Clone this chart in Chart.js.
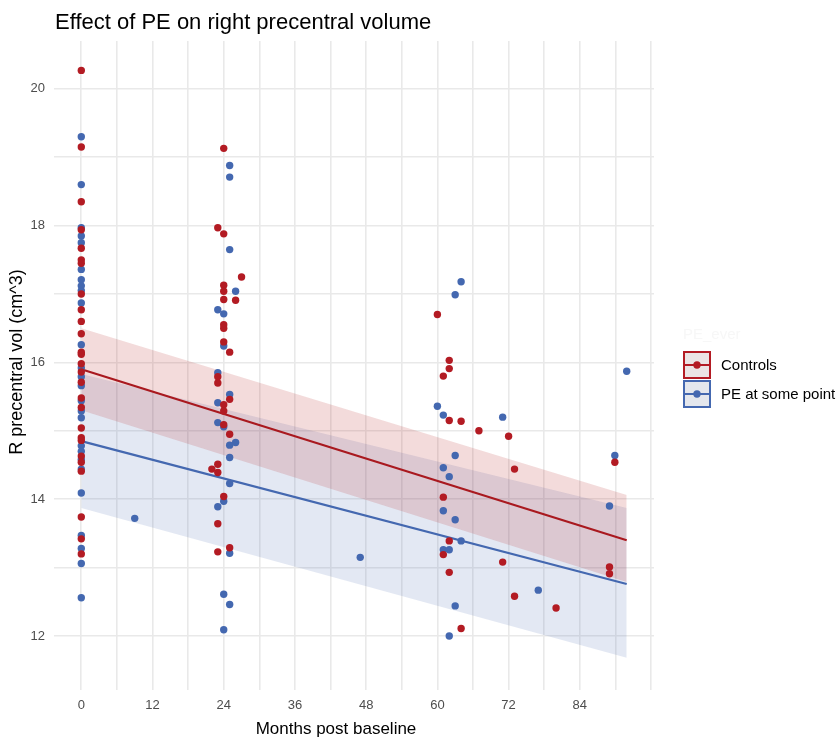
<!DOCTYPE html>
<html>
<head>
<meta charset="utf-8">
<title>Effect of PE on right precentral volume</title>
<script src="https://cdn.jsdelivr.net/npm/chart.js@4.4.1/dist/chart.umd.min.js"></script>
<style>
  body { margin: 0; background: #fff; }
  canvas { display: block; }
</style>
</head>
<body>
<canvas id="chart" width="836" height="738"></canvas>
<script>
const controlsMonths = [
    0, 0, 0, 0, 0, 0, 0, 0, 0, 0, 0, 0, 0, 0, 0, 0, 0, 0, 0, 0, 0, 0, 0, 0, 0, 0, 0,
    24, 23, 24, 27, 24, 24, 24, 26, 24, 24, 24, 25, 23, 23, 25, 24, 24, 24, 25, 23, 22, 23, 24, 23, 25, 23,
    60, 62, 62, 61, 62, 64, 67, 72, 73, 61, 62, 61, 62, 71, 73, 80, 64, 89.9, 89, 89
];
const controlsVol = [
    20.27, 19.15, 18.35, 17.94, 17.67, 17.50, 17.45, 17.00, 16.77, 16.60, 16.42, 16.15, 16.12, 15.98,
    15.86, 15.71, 15.48, 15.34, 15.04, 14.90, 14.86, 14.63, 14.54, 14.41, 13.74, 13.42, 13.20,
    19.13, 17.97, 17.88, 17.25, 17.13, 17.04, 16.92, 16.91, 16.55, 16.50, 16.30, 16.15, 15.79, 15.70,
    15.46, 15.38, 15.29, 15.09, 14.95, 14.51, 14.44, 14.39, 14.04, 13.64, 13.29, 13.23,
    16.70, 16.03, 15.91, 15.80, 15.15, 15.14, 15.00, 14.92, 14.44, 14.03, 13.39, 13.19, 12.93, 13.08,
    12.58, 12.41, 12.11, 14.54, 13.01, 12.91
];
const peMonths = [
    0, 0, 0, 0, 0, 0, 0, 0, 0, 0, 0, 0, 0, 0, 0, 0, 0, 0, 0, 0, 0, 0, 0, 0, 0, 0,
    9, 47,
    25, 25, 25, 26, 23, 24, 24, 23, 25, 23, 23, 24, 25, 26, 25, 25, 24, 23, 25, 24, 25, 24,
    64, 63, 60, 61, 71, 63, 61, 62, 61, 63, 64, 61, 62, 77, 63, 62, 89.9, 89, 91.9
];
const peVol = [
    19.30, 18.60, 17.97, 17.85, 17.75, 17.36, 17.21, 17.12, 17.05, 16.87, 16.26, 15.92, 15.79, 15.66,
    15.44, 15.29, 15.19, 14.78, 14.70, 14.58, 14.44, 14.09, 13.47, 13.28, 13.06, 12.56,
    13.72, 13.15,
    18.88, 18.71, 17.65, 17.04, 16.77, 16.71, 16.24, 15.85, 15.53, 15.41, 15.12, 15.06, 14.79, 14.83,
    14.61, 14.23, 13.97, 13.89, 13.21, 12.61, 12.46, 12.09,
    17.18, 16.99, 15.36, 15.23, 15.20, 14.64, 14.46, 14.33, 13.83, 13.70, 13.39, 13.26, 13.26, 12.67,
    12.44, 12.00, 14.64, 13.90, 15.87
];

// Fitted lines and confidence ribbons, ends at month 0 and last visit
const fitMonths = [0, 91.9];
const controlsFit = [15.90, 13.40];
const controlsUpper = [16.50, 14.06];
const controlsLower = [15.30, 12.79];
const peFit = [14.85, 12.76];
const peUpper = [15.83, 13.87];
const peLower = [13.87, 11.68];

// Axis breaks (major + minor gridlines)
const xTicks = [0, 6, 12, 18, 24, 30, 36, 42, 48, 54, 60, 66, 72, 78, 84, 90, 96];
const yTicks = [12, 13, 14, 15, 16, 17, 18, 19, 20];

const legendLabels = ['Controls', 'PE at some point'];

const RED = '#b31b23';
const BLUE = '#4468b0';
const FONT = "'Liberation Sans', Arial, sans-serif";

function toPoints(xs, ys) {
    return xs.map((x, i) => ({ x: x, y: ys[i] }));
}

function ribbon(ys, fill, color) {
    return {
        type: 'line',
        data: toPoints(fitMonths, ys),
        borderWidth: 0,
        pointRadius: 0,
        backgroundColor: color,
        fill: fill,
        order: 3
    };
}

function fitLine(ys, color) {
    return {
        type: 'line',
        data: toPoints(fitMonths, ys),
        borderColor: color,
        borderWidth: 2.2,
        pointRadius: 0,
        fill: false,
        order: 2
    };
}

// texts and legend drawn on the canvas
const textPlugin = {
    id: 'texts',
    afterDraw(c) {
        const ctx = c.ctx;
        ctx.save();
        ctx.fillStyle = '#000';
        ctx.textAlign = 'left';
        ctx.textBaseline = 'alphabetic';
        ctx.font = '22px ' + FONT;
        ctx.fillText('Effect of PE on right precentral volume', 55, 29);

        ctx.font = '17px ' + FONT;
        ctx.textAlign = 'center';
        ctx.fillText('Months post baseline', 336, 734);

        ctx.save();
        ctx.translate(22, 362);
        ctx.rotate(-Math.PI / 2);
        ctx.font = '18px ' + FONT;
        ctx.fillText('R precentral vol (cm^3)', 0, 0);
        ctx.restore();

        // legend
        ctx.textAlign = 'left';
        ctx.font = '15px ' + FONT;
        ctx.fillStyle = '#f7f7f7';
        ctx.fillText('PE_ever', 683, 339);

        const keys = [
            { color: RED, fill: '#ebe4e4', y: 351 },
            { color: BLUE, fill: '#e4e7ed', y: 380 }
        ];
        keys.forEach((k, i) => {
            ctx.fillStyle = k.fill;
            ctx.fillRect(683, k.y, 28, 28);
            ctx.strokeStyle = k.color;
            ctx.lineWidth = 2;
            ctx.strokeRect(684, k.y + 1, 26, 26);
            ctx.beginPath();
            ctx.moveTo(685, k.y + 14);
            ctx.lineTo(709, k.y + 14);
            ctx.stroke();
            ctx.fillStyle = k.color;
            ctx.beginPath();
            ctx.arc(697, k.y + 14, 3.7, 0, Math.PI * 2);
            ctx.fill();
            ctx.fillStyle = '#000';
            ctx.textBaseline = 'middle';
            ctx.fillText(legendLabels[i], 721, k.y + 15);
        });
        ctx.restore();
    }
};

const gridColor = '#e9e9e9';

const chart = new Chart(document.getElementById('chart'), {
    type: 'scatter',
    data: {
        datasets: [
            ribbon(controlsUpper, '+1', 'rgba(178, 34, 34, 0.16)'),
            ribbon(controlsLower, false, 'rgba(178, 34, 34, 0.16)'),
            ribbon(peUpper, '+1', 'rgba(68, 104, 176, 0.15)'),
            ribbon(peLower, false, 'rgba(68, 104, 176, 0.15)'),
            fitLine(controlsFit, '#a9191f'),
            fitLine(peFit, BLUE),
            {
                label: legendLabels[0],
                data: toPoints(controlsMonths, controlsVol),
                backgroundColor: RED,
                borderWidth: 0,
                pointRadius: 3.7,
                order: 0
            },
            {
                label: legendLabels[1],
                data: toPoints(peMonths, peVol),
                backgroundColor: BLUE,
                borderWidth: 0,
                pointRadius: 3.7,
                order: 1
            }
        ]
    },
    options: {
        responsive: false,
        animation: false,
        layout: { padding: { top: 41, right: 182, left: 0, bottom: 0 } },
        plugins: {
            legend: { display: false },
            tooltip: { enabled: false }
        },
        scales: {
            x: {
                type: 'linear',
                min: -4.6,
                max: 96.5,
                afterBuildTicks: s => { s.ticks = xTicks.map(v => ({ value: v })); },
                afterFit: s => { s.height = 48; },
                border: { display: false },
                grid: { color: gridColor, lineWidth: 1.6, drawTicks: false },
                ticks: {
                    autoSkip: false,
                    maxRotation: 0,
                    padding: 8,
                    color: '#4d4d4d',
                    font: { family: FONT, size: 13 },
                    callback: v => (v % 12 === 0 && v <= 84) ? String(v) : ''
                }
            },
            y: {
                type: 'linear',
                min: 11.21,
                max: 20.70,
                afterBuildTicks: s => { s.ticks = yTicks.map(v => ({ value: v })); },
                afterFit: s => { s.width = 54; },
                border: { display: false },
                grid: { color: gridColor, lineWidth: 1.6, drawTicks: false },
                ticks: {
                    padding: 9,
                    color: '#4d4d4d',
                    font: { family: FONT, size: 13 },
                    callback: v => (v % 2 === 0) ? String(v) : ''
                }
            }
        }
    },
    plugins: [textPlugin]
});
</script>
</body>
</html>
